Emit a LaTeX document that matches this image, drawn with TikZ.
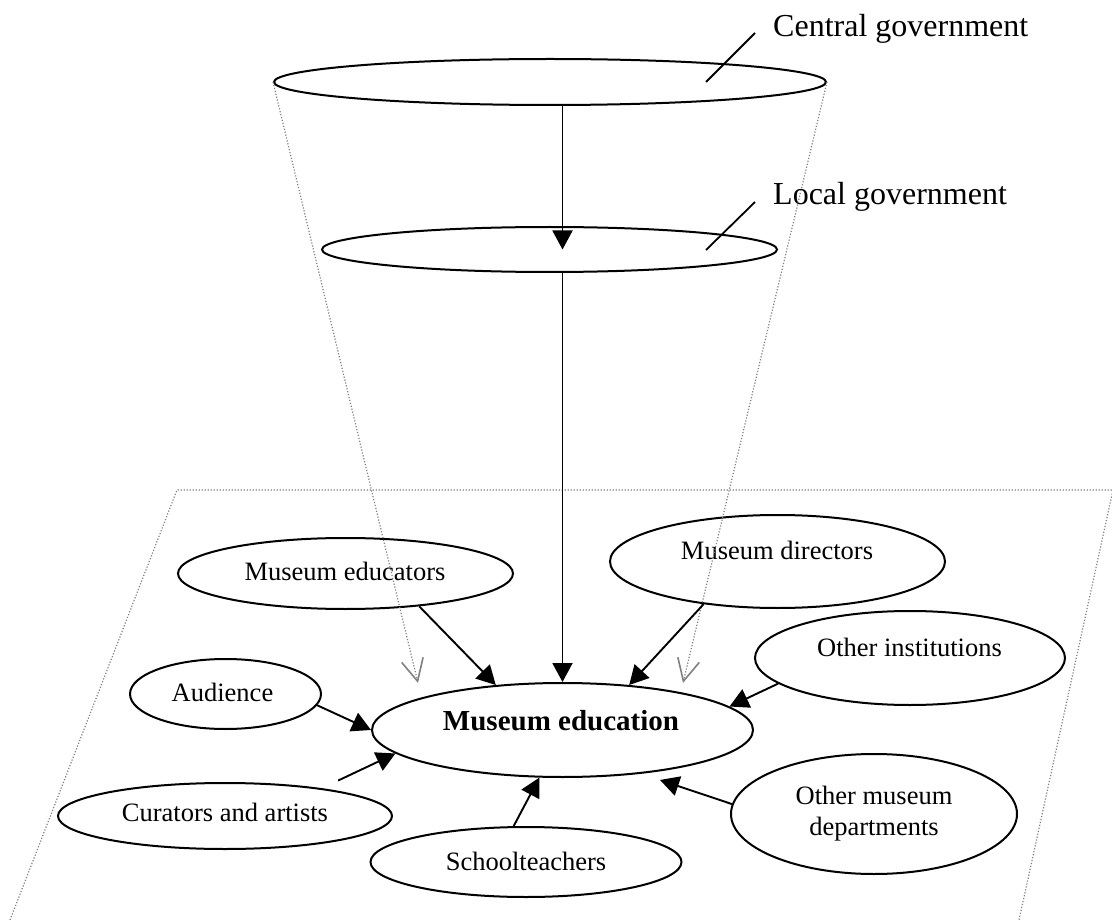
\documentclass[tikz,border=0pt]{standalone}
\usepackage{fontspec}
\setmainfont{Liberation Serif}
\usetikzlibrary{arrows.meta,shapes.geometric,calc}
\begin{document}
\begin{tikzpicture}[x=1pt,y=-1pt,
  oval/.style={draw, ellipse, line width=2pt, inner sep=0pt},
  txt/.style={inner sep=0pt, font=\fontsize{26.5}{31}\selectfont},
  lbl/.style={inner sep=0pt, font=\fontsize{32}{38}\selectfont},
  flow/.style={line width=1.9pt, -{Triangle[length=19pt,width=20pt]}},
  leader/.style={line width=1.8pt},
  cone/.style={draw=gray, line width=1.2pt, dash pattern=on 1.2pt off 1.8pt,
    -{Straight Barb[length=22pt,width=22pt,line width=1.6pt]}},
  plane/.style={draw=gray, line width=1.2pt, dash pattern=on 1.2pt off 1.8pt}
]
\useasboundingbox (0,0) rectangle (1112,920);

% ground plane of the museum
\draw[plane] (10,920) -- (177,490) -- (1113,490) -- (1019,920);

% government levels
\node[oval, minimum width=552pt, minimum height=46pt] (cg) at (550,82) {};
\node[oval, minimum width=455pt, minimum height=45pt] (lg) at (549.5,249.5) {};
\node[lbl, anchor=base west] (cgl) at (773,37) {Central government};
\node[lbl, anchor=base west] (lgl) at (773,205) {Local government};
\draw[leader] ($(cg.center)+(156,0)$) -- ($(cgl.base west)+(-18,-4)$);
\draw[leader] ($(lg.center)+(156.5,0.5)$) -- ($(lgl.base west)+(-18,-3)$);

% actors around museum education
\node[oval, minimum width=335pt, minimum height=71pt] (edu) at (345.5,573.5) {};
\node[oval, minimum width=335pt, minimum height=93pt] (dir) at (777.5,561.5) {};
\node[oval, minimum width=310pt, minimum height=94pt] (oin) at (910,658) {};
\node[oval, minimum width=191pt, minimum height=70pt] (aud) at (225.5,694) {};
\node[oval, minimum width=381pt, minimum height=94pt] (med) at (562.5,730) {};
\node[oval, minimum width=334pt, minimum height=66pt] (cur) at (225,816) {};
\node[oval, minimum width=311pt, minimum height=70pt] (sch) at (526,862) {};
\node[oval, minimum width=286pt, minimum height=120pt] (omd) at (874,814) {};

\node[txt, anchor=base] (edut) at (345,580) {Museum educators};
\node[txt, anchor=base] (dirt) at (777,559) {Museum directors};
\node[txt, anchor=base] (oint) at (909.5,656) {Other institutions};
\node[txt, anchor=base] (audt) at (222.5,701) {Audience};
\node[txt, anchor=base, font=\fontsize{29}{34}\selectfont\bfseries] (medt) at (561,730) {Museum education};
\node[txt, anchor=base] (curt) at (225,821) {Curators and artists};
\node[txt, anchor=base] (scht) at (526,870) {Schoolteachers};
\node[txt, align=center] (omdt) at (874,813.5) {Other museum\\departments};

% projection of the government cone onto the plane
\coordinate (lv) at (418,683);
\coordinate (rv) at (683,683);
\draw[cone] (cg.west) -- (lv);
\draw[cone] (cg.east) -- (rv);

% influences
\draw[flow] (cg.south -| med.north) -- (lg.center -| med.north);
\draw[flow] (lg.south -| med.north) -- (med.north);
\draw[flow] (edu.-24) -- (med.146);
\draw[flow] (dir.210) -- (med.34);
\draw[flow] (oin.191) -- (med.8);
\draw[flow] (aud.-7) -- (med.west);
\draw[flow, shorten <=18pt] (cur.16) -- (med.188);
\draw[flow] (sch.109) -- (med.244);
\draw[flow, shorten >=19.6pt] (omd.176) -- (med.-29.4);
\end{tikzpicture}
\end{document}
